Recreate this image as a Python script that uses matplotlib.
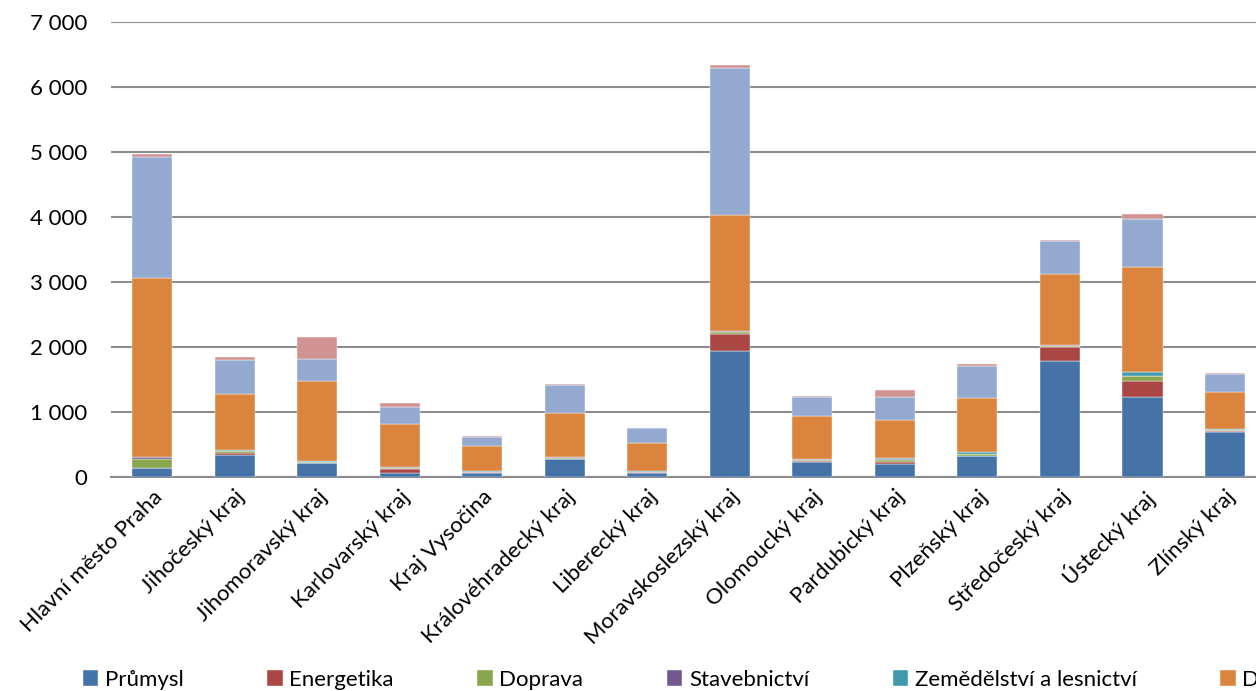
import matplotlib
matplotlib.use('Agg')
import matplotlib.pyplot as plt
import matplotlib.ticker as ticker
import numpy as np

plt.rcParams['font.family'] = ['Lato', 'DejaVu Sans']
plt.rcParams['font.size'] = 16

regions = ['Hlavní město Praha', 'Jihočeský kraj', 'Jihomoravský kraj', 'Karlovarský kraj',
           'Kraj Vysočina', 'Královéhradecký kraj', 'Liberecký kraj', 'Moravskoslezský kraj',
           'Olomoucký kraj', 'Pardubický kraj', 'Plzeňský kraj', 'Středočeský kraj',
           'Ústecký kraj', 'Zlínský kraj']

prumysl      = [130, 338, 206, 62, 52, 267, 60, 1929, 226, 195, 318, 1775, 1231, 692]
energetika   = [5, 25, 8, 52, 15, 5, 5, 261, 20, 30, 5, 220, 246, 5]
doprava      = [140, 25, 12, 25, 5, 20, 8, 30, 8, 35, 25, 20, 72, 15]
stavebnictvi = [25, 8, 5, 5, 3, 5, 3, 15, 15, 5, 5, 5, 5, 10]
zemedelstvi  = [5, 15, 10, 5, 20, 5, 10, 10, 5, 25, 20, 5, 51, 10]
domacnosti   = [2750, 860, 1230, 655, 375, 683, 428, 1780, 655, 575, 836, 1100, 1615, 565]
obchod       = [1860, 517, 345, 272, 145, 420, 231, 2265, 297, 360, 492, 502, 749, 288]
ostatni      = [46, 52, 332, 56, 5, 20, 5, 37, 21, 102, 26, 10, 77, 5]

series_names = ['Průmysl', 'Energetika', 'Doprava', 'Stavebnictví',
                'Zemědělství a lesnictví', 'Domácnosti', 'Obchod a služby', 'Ostatní']
series_values = [prumysl, energetika, doprava, stavebnictvi,
                 zemedelstvi, domacnosti, obchod, ostatni]
colors = ['#4573A7', '#AA4643', '#89A54E', '#71588F',
          '#4198AF', '#DB843D', '#93A9CF', '#D19392']

fig = plt.figure(figsize=(12.56, 6.91), dpi=100)
# osa záměrně přesahuje pravý okraj (oříznutý graf jako v originále)
ax = fig.add_axes([0.0882, 0.3101, 0.92, 0.6585])

x = np.arange(len(regions))
bottom = np.zeros(len(regions))
for name, vals, c in zip(series_names, series_values, colors):
    vals = np.array(vals, dtype=float)
    ax.bar(x, vals, 0.485, bottom=bottom, color=c, label=name,
           edgecolor='white', linewidth=0.3, zorder=3)
    bottom += vals

ax.set_xlim(-0.5, len(regions) - 0.5)
ax.set_ylim(0, 7000)
ax.yaxis.set_major_locator(ticker.MultipleLocator(1000))
ax.yaxis.set_major_formatter(ticker.FuncFormatter(lambda v, p: f'{int(v):,}'.replace(',', ' ')))
ax.grid(axis='y', color='#8c8c8c', linewidth=1.5, zorder=0)
for s in ['top', 'right', 'left']:
    ax.spines[s].set_visible(False)
ax.spines['bottom'].set_color('#8c8c8c')
ax.spines['bottom'].set_linewidth(1.5)
ax.tick_params(axis='y', length=0, pad=17, labelsize=16)
ax.tick_params(axis='x', length=0, pad=7, labelsize=16)

ax.set_xticks(x)
ax.set_xticklabels(regions, rotation=45, ha='right', va='top', rotation_mode='anchor')

fig.legend(loc='center left', bbox_to_anchor=(0.066, 0.016), ncol=8, frameon=False,
           handlelength=0.7, handleheight=0.7, handletextpad=0.3, columnspacing=3.75,
           borderpad=0, borderaxespad=0, fontsize=16)

fig.savefig('out.png', dpi=100)
